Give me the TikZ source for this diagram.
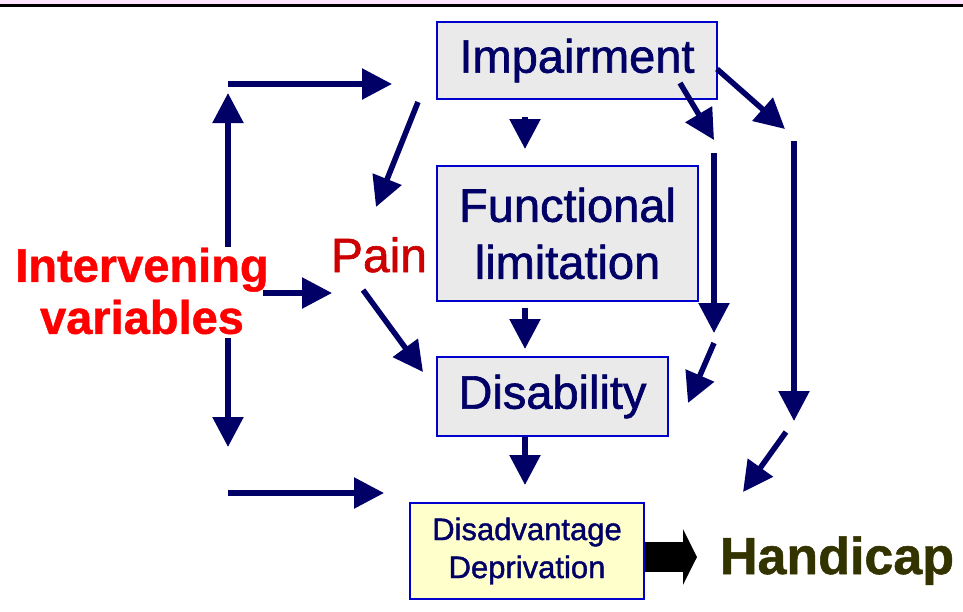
\documentclass[tikz,border=0pt]{standalone}
\usepackage{fontspec}
\setmainfont{Liberation Sans}
\newfontfamily\heavyfont[FakeBold=1.3]{Liberation Sans}
\newfontfamily\heavyboldfont[FakeBold=1]{Liberation Sans Bold}
\usetikzlibrary{arrows.meta}
\definecolor{navy}{HTML}{000066}
\definecolor{boxblue}{HTML}{0000CC}
\definecolor{boxgray}{HTML}{EAEAEA}
\definecolor{boxyellow}{HTML}{FFFFCC}
\definecolor{intred}{HTML}{FF0000}
\definecolor{painred}{HTML}{CC0000}
\definecolor{handcol}{HTML}{333300}
\definecolor{bandpink}{HTML}{FFE6FF}
\begin{document}
\begin{tikzpicture}[x=1pt,y=-1pt,
  arr/.style={draw=navy, line width=5.5pt, -{Triangle[length=30pt,width=30pt]}},
  box/.style={draw=boxblue, line width=2.5pt, fill=boxgray, text=navy, inner sep=0pt}]
\useasboundingbox (0,0) rectangle (963,611);
\fill[bandpink] (0,0) rectangle (963,4);
\fill[black] (0,4) rectangle (963,6.5);
\node[box, minimum width=280pt, minimum height=77pt, font=\heavyfont\fontsize{47}{57}\selectfont] (imp) at (577,60.5){Impairment};
\node[box, minimum width=261pt, minimum height=135pt, align=center, font=\heavyfont\fontsize{47}{57}\selectfont] (fun) at (567.5,233.5){Functional\\limitation};
\node[box, minimum width=231pt, minimum height=79pt, font=\heavyfont\fontsize{47}{57}\selectfont] (dis) at (552.5,396.5){Disability};
\node[box, fill=boxyellow, minimum width=234pt, minimum height=96pt, align=center, font=\heavyfont\fontsize{31}{38}\selectfont] (dep) at (527,551){Disadvantage\\Deprivation};
\node[inner sep=0pt, align=center, text=intred, font=\heavyboldfont\fontsize{47}{52}\selectfont] (iv) at (142,291){Intervening\\variables};
\node[inner sep=0pt, anchor=base, text=painred, font=\heavyfont\fontsize{48}{48}\selectfont] (pain) at (379,272){Pain};
\node[inner sep=0pt, anchor=base, text=handcol, font=\heavyboldfont\fontsize{52}{52}\selectfont] (hand) at (837,574){Handicap};
\coordinate (ivtl) at (228,84);
\coordinate (impw) at (392,84);
\coordinate (ivup) at (228,247);
\coordinate (ivtop) at (228,93);
\coordinate (ivdn) at (228,338);
\coordinate (ivbot) at (228,447);
\coordinate (ivbl) at (228,493);
\coordinate (depw) at (384,493);
\coordinate (ivr) at (263,293);
\coordinate (painw) at (332,293);
\coordinate (impsw) at (418,102);
\coordinate (painn) at (376,207);
\coordinate (pains) at (363,290);
\coordinate (disw) at (423,372);
\coordinate (imps) at (525,117);
\coordinate (funn) at (525,149);
\coordinate (funs) at (525,308);
\coordinate (disn) at (525,349);
\coordinate (diss) at (525,437);
\coordinate (depn) at (525,485);
\coordinate (impse) at (680,83);
\coordinate (rt1) at (714,140);
\coordinate (impe) at (717,69);
\coordinate (rt2) at (785,129);
\coordinate (rv1s) at (714,153);
\coordinate (rv1e) at (714,333);
\coordinate (rd1s) at (714,343);
\coordinate (dise) at (688,403);
\coordinate (rv2s) at (794,141);
\coordinate (rv2e) at (794,421);
\coordinate (rd2s) at (786,432);
\coordinate (handw) at (743,492);
\coordinate (bars) at (645,557);
\coordinate (bare) at (697,557);
\draw[arr] (ivtl) -- (impw);
\draw[arr] (ivup) -- (ivtop);
\draw[arr] (ivdn) -- (ivbot);
\draw[arr] (ivbl) -- (depw);
\draw[arr] (ivr) -- (painw);
\draw[arr] (impsw) -- (painn);
\draw[arr] (pains) -- (disw);
\draw[arr] (imps) -- (funn);
\draw[arr] (funs) -- (disn);
\draw[arr] (diss) -- (depn);
\draw[arr] (impse) -- (rt1);
\draw[arr] (impe) -- (rt2);
\draw[arr] (rv1s) -- (rv1e);
\draw[arr] (rd1s) -- (dise);
\draw[arr] (rv2s) -- (rv2e);
\draw[arr] (rd2s) -- (handw);
\draw[black, line width=30pt, -{Triangle[length=14pt,width=55pt]}] (bars) -- (bare);
\end{tikzpicture}
\end{document}
